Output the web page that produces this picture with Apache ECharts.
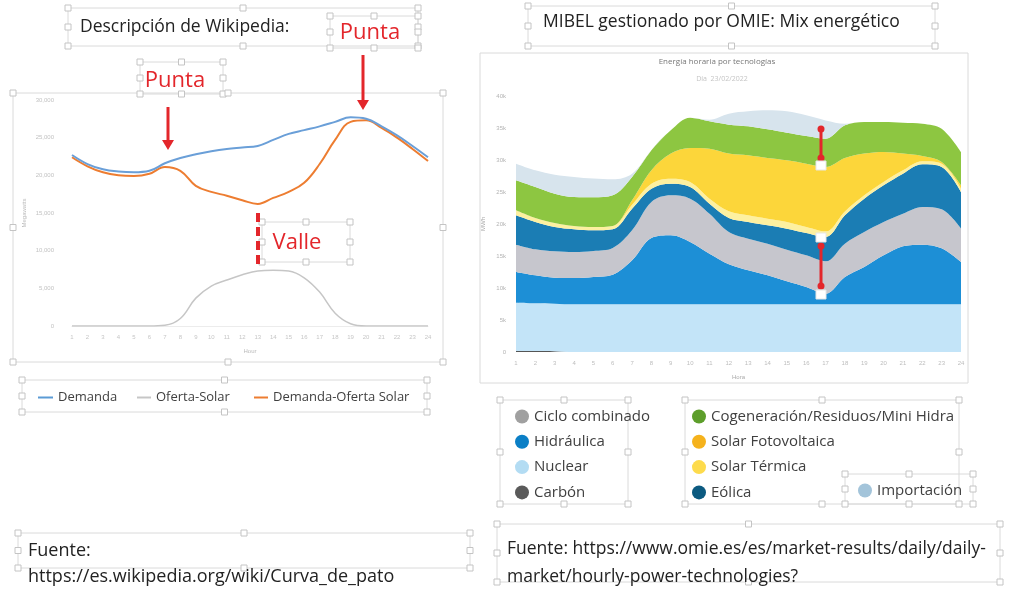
<!DOCTYPE html>
<html>
<head>
<meta charset="utf-8">
<script src="https://cdn.jsdelivr.net/npm/echarts@6/dist/echarts.min.js"></script>
<style>
  html, body { margin: 0; padding: 0; background: #ffffff; }
  #main { width: 1019px; height: 592px; }
</style>
</head>
<body>
<div id="main"></div>
<script>
// curva de pato (Wikipedia)
var horas = ['1','2','3','4','5','6','7','8','9','10','11','12','13','14','15','16','17','18','19','20','21','22','23','24'];
var demanda = [22700, 21500, 20800, 20500, 20400, 20600, 21600, 22300, 22800, 23200, 23500, 23700, 23900, 24700, 25500, 26000, 26500, 27100, 27700, 27500, 26500, 25300, 23900, 22400];
var ofertaSolar = [0, 0, 0, 0, 0, 0, 100, 1000, 3700, 5300, 6100, 6800, 7300, 7400, 7300, 6400, 4500, 1700, 300, 0, 0, 0, 0, 0];
var demandaMenosSolar = [22400, 21200, 20400, 20000, 19900, 20200, 21100, 20600, 18600, 17800, 17300, 16700, 16200, 17000, 17800, 19000, 21500, 24700, 27100, 27300, 26300, 25000, 23500, 21900];
var ticksIzq = [0, 5000, 10000, 15000, 20000, 25000, 30000];

// mix energético OMIE (MWh por hora)
var carbon = [150, 150, 120, 0, 0, 0, 0, 0, 0, 0, 0, 0, 0, 0, 0, 0, 0, 0, 0, 0, 0, 0, 0, 0];
var nuclear = [7550, 7450, 7430, 7450, 7450, 7450, 7450, 7450, 7450, 7450, 7450, 7450, 7450, 7450, 7450, 7450, 7450, 7450, 7450, 7450, 7450, 7450, 7450, 7450];
var hidraulica = [4800, 4380, 4060, 4110, 4270, 4630, 6870, 10360, 10780, 9740, 7910, 6250, 5310, 4530, 3590, 2710, 1660, 4270, 5830, 7650, 9060, 9320, 8750, 6610];
var cicloCombinado = [4270, 4060, 4120, 4060, 4060, 4170, 4690, 5630, 6250, 6770, 6250, 5050, 4950, 4950, 4950, 4940, 5060, 5210, 5470, 5210, 5100, 5890, 6100, 5240];
var eolica = [4580, 4270, 3800, 3550, 3230, 2920, 3380, 2080, 1820, 1820, 1570, 2190, 2600, 2860, 3280, 3490, 3800, 4420, 5210, 5730, 6250, 6660, 6610, 5700];
var solarTermica = [780, 620, 620, 520, 520, 520, 620, 780, 780, 780, 780, 1040, 1040, 1040, 1040, 940, 880, 620, 520, 520, 520, 470, 520, 520];
var solarFV = [0, 0, 0, 0, 0, 0, 690, 2090, 3920, 5310, 7810, 9020, 9380, 9480, 9640, 9900, 10060, 8340, 6520, 4690, 2620, 840, 260, 530];
var cogeneracion = [4690, 4850, 4590, 4530, 4640, 4790, 3640, 3120, 3640, 4740, 4270, 4520, 4530, 4480, 4320, 4320, 4420, 5110, 4940, 4690, 4830, 5050, 5210, 5200];
var importacion = [2600, 2600, 2970, 3120, 2920, 2500, 520, 0, 0, 0, 260, 1720, 2340, 2970, 3330, 3230, 2860, 260, 0, 0, 0, 0, 0, 0];
var ticksDer = [0, 5000, 10000, 15000, 20000, 25000, 30000, 35000, 40000];

var rojo = '#e3262b';
var fuente = '"Open Sans", "DejaVu Sans", sans-serif';

// marco de un cuadro de texto con sus asas
function marco(x, y, w, h, asas) {
  var els = [{
    type: 'rect', silent: true, z: 1,
    shape: { x: x, y: y, width: w, height: h },
    style: { fill: 'rgba(0,0,0,0)', stroke: '#dadada', lineWidth: 1 }
  }];
  if (asas) {
    var pts = [[x, y], [x + w / 2, y], [x + w, y], [x, y + h / 2], [x + w, y + h / 2], [x, y + h], [x + w / 2, y + h], [x + w, y + h]];
    pts.forEach(function (p) {
      els.push({
        type: 'rect', silent: true, z: 2,
        shape: { x: p[0] - 3, y: p[1] - 3, width: 6, height: 6 },
        style: { fill: '#ffffff', stroke: '#c4c4c4', lineWidth: 1 }
      });
    });
  }
  return els;
}

function texto(t, x, y, size, color, align) {
  return {
    type: 'text', silent: true, z: 50,
    style: { text: t, x: x, y: y, fill: color, font: size + 'px ' + fuente, align: align || 'left', verticalAlign: 'middle' }
  };
}

function flecha(x, y1, y2) {
  return [
    { type: 'line', silent: true, z: 60, shape: { x1: x, y1: y1, x2: x, y2: y2 - 8 }, style: { stroke: rojo, lineWidth: 3 } },
    { type: 'polygon', silent: true, z: 60, shape: { points: [[x - 6, y2 - 10], [x + 6, y2 - 10], [x, y2]] }, style: { fill: rojo } }
  ];
}

function barraI(x, y1, y2) {
  return [
    { type: 'line', silent: true, z: 60, shape: { x1: x, y1: y1, x2: x, y2: y2 }, style: { stroke: rojo, lineWidth: 3 } },
    { type: 'circle', silent: true, z: 60, shape: { cx: x, cy: y1, r: 3.5 }, style: { fill: rojo } },
    { type: 'circle', silent: true, z: 60, shape: { cx: x, cy: y2, r: 3.5 }, style: { fill: rojo } }
  ];
}

var graficos = [];
graficos = graficos.concat(marco(68, 8, 350, 38, true));
graficos = graficos.concat(marco(330, 16, 88, 32, true));
graficos = graficos.concat(marco(528, 6, 407, 40, true));
graficos = graficos.concat(marco(140, 62, 83, 32, true));
graficos = graficos.concat(marco(13, 93, 430, 269, true));
graficos = graficos.concat(marco(480, 53, 488, 330, false));
graficos = graficos.concat(marco(262, 222, 88, 40, true));
graficos = graficos.concat(marco(22, 380, 405, 32, true));
graficos = graficos.concat(marco(500, 400, 128, 104, true));
graficos = graficos.concat(marco(685, 400, 274, 104, true));
graficos = graficos.concat(marco(845, 474, 128, 30, true));
graficos = graficos.concat(marco(18, 533, 452, 35, true));
graficos = graficos.concat(marco(497, 524, 503, 58, true));

graficos.push(texto('Descripción de Wikipedia:', 80, 27, 17.5, '#222222'));
graficos.push(texto('MIBEL gestionado por OMIE: Mix energético', 543, 22, 17.5, '#222222'));
graficos.push(texto('Punta', 370, 33, 22, rojo, 'center'));
graficos.push(texto('Punta', 175, 81, 22, rojo, 'center'));
graficos.push(texto('Valle', 297, 243, 22, rojo, 'center'));
graficos.push(texto('Energía horaria por tecnologías', 717, 62, 8, '#777777', 'center'));
graficos.push(texto('Día  23/02/2022', 722, 79, 7, '#c4c4c4', 'center'));
graficos.push(texto('Fuente:', 28, 551, 18, '#222222'));
graficos.push(texto('https://es.wikipedia.org/wiki/Curva_de_pato', 28, 577, 18, '#222222'));
graficos.push(texto('Fuente: https://www.omie.es/es/market-results/daily/daily-', 507, 549, 17.5, '#222222'));
graficos.push(texto('market/hourly-power-technologies?', 507, 577, 17.5, '#222222'));

graficos = graficos.concat(flecha(363, 55, 110));
graficos = graficos.concat(flecha(168, 107, 150));
graficos.push({ type: 'line', silent: true, z: 60, shape: { x1: 258, y1: 213, x2: 258, y2: 266 }, style: { stroke: rojo, lineWidth: 4, lineDash: [9, 5] } });
graficos = graficos.concat(barraI(821, 129, 158));
graficos = graficos.concat(barraI(821, 246, 286));
[[816, 161], [816, 233], [816, 290]].forEach(function (p) {
  graficos.push({ type: 'rect', silent: true, z: 61, shape: { x: p[0], y: p[1], width: 10, height: 9 }, style: { fill: '#ffffff', stroke: '#e6e6e6' } });
});

function serieArea(nombre, datos, color) {
  return {
    name: nombre, type: 'line', xAxisIndex: 1, yAxisIndex: 1, stack: 'mix',
    data: datos, smooth: 0.35, symbol: 'none',
    lineStyle: { width: 0 }, areaStyle: { color: color, opacity: 1 }, itemStyle: { color: color }
  };
}

var leyendaTexto = { fontSize: 15, color: '#404040', fontFamily: fuente, lineHeight: 14 };
var leyendaLinea = { fontSize: 13, color: '#404040', fontFamily: fuente };

var chart = echarts.init(document.getElementById('main'));
var option = {
  animation: false,
  backgroundColor: '#ffffff',
  grid: [
    { left: 72, top: 100, width: 356, height: 226 },
    { left: 516, top: 96, width: 445, height: 256 }
  ],
  xAxis: [
    {
      gridIndex: 0, type: 'category', data: horas, boundaryGap: false,
      name: 'Hour', nameLocation: 'middle', nameGap: 22,
      nameTextStyle: { fontSize: 6, color: '#bbbbbb' },
      axisLine: { lineStyle: { color: '#ececec' } }, axisTick: { show: false },
      axisLabel: { fontSize: 6, color: '#c6c6c6', interval: 0, margin: 8 }
    },
    {
      gridIndex: 1, type: 'category', data: horas, boundaryGap: false,
      name: 'Hora', nameLocation: 'middle', nameGap: 22,
      nameTextStyle: { fontSize: 6, color: '#aaaaaa' },
      axisLine: { show: false }, axisTick: { show: false },
      axisLabel: { fontSize: 6, color: '#bdbdbd', interval: 0, margin: 8 }
    }
  ],
  yAxis: [
    {
      gridIndex: 0, type: 'value', min: ticksIzq[0], max: ticksIzq[ticksIzq.length - 1], interval: 5000,
      name: 'Megawatts', nameLocation: 'middle', nameGap: 45, nameRotate: 90,
      nameTextStyle: { fontSize: 6, color: '#bbbbbb' },
      splitLine: { show: false }, axisLine: { show: false },
      axisLabel: { fontSize: 6, color: '#c2c2c2', margin: 18 }
    },
    {
      gridIndex: 1, type: 'value', min: ticksDer[0], max: ticksDer[ticksDer.length - 1], interval: 5000,
      name: 'MWh', nameLocation: 'middle', nameGap: 30, nameRotate: 90,
      nameTextStyle: { fontSize: 6, color: '#aaaaaa' },
      splitLine: { show: false }, axisLine: { show: false },
      axisLabel: { fontSize: 6, color: '#b4b4b4', margin: 10, formatter: function (v) { return v === 0 ? '0' : (v / 1000) + 'k'; } }
    }
  ],
  legend: [
    { left: 33, top: 386, icon: 'rect', itemWidth: 15, itemHeight: 2, data: ['Demanda'], textStyle: leyendaLinea },
    { left: 132, top: 386, icon: 'rect', itemWidth: 14, itemHeight: 2, data: ['Oferta-Solar'], textStyle: leyendaLinea },
    { left: 249, top: 386, icon: 'rect', itemWidth: 14, itemHeight: 2, data: ['Demanda-Oferta Solar'], textStyle: leyendaLinea },
    {
      left: 510, top: 404, orient: 'vertical', icon: 'circle', itemWidth: 14, itemHeight: 14, itemGap: 10.3, textStyle: leyendaTexto,
      data: [
        { name: 'Ciclo combinado', itemStyle: { color: '#a0a0a0' } },
        { name: 'Hidráulica', itemStyle: { color: '#0b7fc6' } },
        { name: 'Nuclear', itemStyle: { color: '#b3dcf3' } },
        { name: 'Carbón', itemStyle: { color: '#5a5a5a' } }
      ]
    },
    {
      left: 687, top: 404, orient: 'vertical', icon: 'circle', itemWidth: 14, itemHeight: 14, itemGap: 10.3, textStyle: leyendaTexto,
      data: [
        { name: 'Cogeneración/Residuos/Mini Hidra', itemStyle: { color: '#5d9e2b' } },
        { name: 'Solar Fotovoltaica', itemStyle: { color: '#f5b21c' } },
        { name: 'Solar Térmica', itemStyle: { color: '#fddb4c' } },
        { name: 'Eólica', itemStyle: { color: '#0c5a80' } }
      ]
    },
    {
      left: 853, top: 478, icon: 'circle', itemWidth: 14, itemHeight: 14, textStyle: leyendaTexto,
      data: [{ name: 'Importación', itemStyle: { color: '#a3c4da' } }]
    }
  ],
  graphic: graficos,
  series: [
    {
      name: 'Oferta-Solar', type: 'line', xAxisIndex: 0, yAxisIndex: 0, data: ofertaSolar,
      smooth: 0.4, symbol: 'none', lineStyle: { width: 1.5, color: '#c6c6c6' }, itemStyle: { color: '#c6c6c6' }
    },
    {
      name: 'Demanda-Oferta Solar', type: 'line', xAxisIndex: 0, yAxisIndex: 0, data: demandaMenosSolar,
      smooth: 0.4, symbol: 'none', lineStyle: { width: 2, color: '#ed7d31' }, itemStyle: { color: '#ed7d31' }
    },
    {
      name: 'Demanda', type: 'line', xAxisIndex: 0, yAxisIndex: 0, data: demanda,
      smooth: 0.4, symbol: 'none', lineStyle: { width: 2, color: '#6a9fd8' }, itemStyle: { color: '#5b9bd5' }
    },
    serieArea('Carbón', carbon, '#555555'),
    serieArea('Nuclear', nuclear, '#c3e4f8'),
    serieArea('Hidráulica', hidraulica, '#1d8fd6'),
    serieArea('Ciclo combinado', cicloCombinado, '#c6c6cd'),
    serieArea('Eólica', eolica, '#1b7db4'),
    serieArea('Solar Térmica', solarTermica, '#fdf0a0'),
    serieArea('Solar Fotovoltaica', solarFV, '#fcd63a'),
    serieArea('Cogeneración/Residuos/Mini Hidra', cogeneracion, '#8dc641'),
    serieArea('Importación', importacion, '#d7e4ed')
  ]
};
chart.setOption(option);
</script>
</body>
</html>
